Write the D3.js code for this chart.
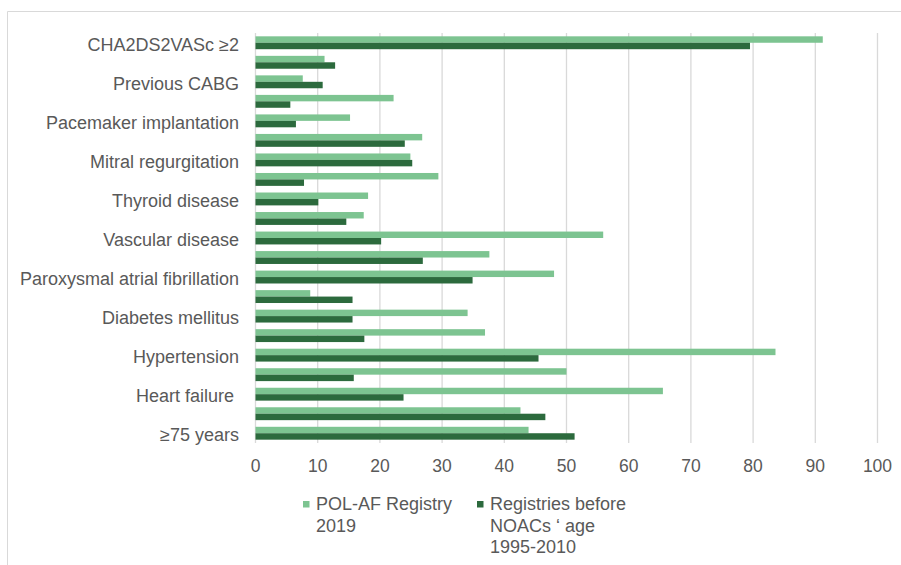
<!DOCTYPE html>
<html>
<head>
<meta charset="utf-8">
<script src="https://cdn.jsdelivr.net/npm/d3@7"></script>
<style>
  body { margin: 0; background: #fff; }
  svg text { font-family: "Liberation Sans", Arial, sans-serif; fill: #595959; white-space: pre; }
</style>
</head>
<body>
<svg id="chart" width="901" height="565"></svg>
<script>
// categories top to bottom; every second label is hidden in the original
const categories = ['CHA2DS2VASc \u22652', '', 'Previous CABG', '', 'Pacemaker implantation', '',
  'Mitral regurgitation', '', 'Thyroid disease', '', 'Vascular disease', '',
  'Paroxysmal atrial fibrillation', '', 'Diabetes mellitus', '', 'Hypertension', '',
  'Heart failure ', '', '\u226575 years']
const polAF = [91.2, 11.1, 7.6, 22.2, 15.2, 26.8, 24.9, 29.4, 18.1, 17.4, 55.9, 37.6,
  48.0, 8.8, 34.1, 36.9, 83.6, 50.0, 65.5, 42.6, 43.9]
const before = [79.5, 12.8, 10.8, 5.6, 6.5, 24.0, 25.2, 7.8, 10.1, 14.6, 20.2, 26.9,
  34.9, 15.6, 15.6, 17.5, 45.5, 15.8, 23.8, 46.6, 51.3]
const xTicks = [0, 10, 20, 30, 40, 50, 60, 70, 80, 90, 100]
const seriesNames = [['POL-AF Registry', '2019'], ['Registries before', 'NOACs \u2018 age', '1995-2010']]
const colors = ['#7dc491', '#2c6a3d']

const svg = d3.select('#chart')

// frame lines (top and left only visible)
svg.append('line').attr('x1', 7.5).attr('x2', 901).attr('y1', 11.5).attr('y2', 11.5)
  .attr('stroke', '#d9d9d9')
svg.append('line').attr('x1', 7.5).attr('x2', 7.5).attr('y1', 11.5).attr('y2', 565)
  .attr('stroke', '#d9d9d9')

const x = d3.scaleLinear().domain([0, 100]).range([255.5, 877.5])
const y = d3.scaleBand().domain(d3.range(categories.length)).range([33, 443]).paddingInner(0.34).paddingOuter(0.17)
const sub = d3.scaleBand().domain([0, 1]).range([0, y.bandwidth()])

// gridlines
svg.append('g')
  .selectAll('line')
  .data(xTicks)
  .enter()
  .append('line')
    .attr('x1', d => x(d)).attr('x2', d => x(d))
    .attr('y1', 33).attr('y2', 443)
    .attr('stroke', '#d9d9d9')
    .attr('stroke-width', 1.3)

const rows = svg.append('g')
  .selectAll('g')
  .data(categories.map((c, i) => ({ c, i, vals: [polAF[i], before[i]] })))
  .enter()
  .append('g')
    .attr('transform', d => `translate(0, ${y(d.i)})`)

rows.selectAll('rect')
  .data(d => d.vals)
  .enter()
  .append('rect')
    .attr('x', x(0))
    .attr('y', (d, j) => sub(j))
    .attr('width', d => x(d) - x(0))
    .attr('height', sub.bandwidth())
    .attr('fill', (d, j) => colors[j])

// category labels
svg.append('g')
  .selectAll('text')
  .data(categories)
  .enter()
  .append('text')
    .attr('x', 239)
    .attr('y', (d, i) => y(i) + y.bandwidth() / 2 + 1.5)
    .attr('dy', '0.35em')
    .attr('text-anchor', 'end')
    .style('font-size', '18px')
    .text(d => d)

// x tick labels
svg.append('g')
  .selectAll('text')
  .data(xTicks)
  .enter()
  .append('text')
    .attr('x', d => x(d))
    .attr('y', 466)
    .attr('dy', '0.35em')
    .attr('text-anchor', 'middle')
    .style('font-size', '17.5px')
    .text(d => d)

// legend
const legend = svg.append('g')
  .selectAll('g')
  .data(seriesNames)
  .enter()
  .append('g')
    .attr('transform', (d, i) => `translate(${[303, 477][i]}, 501)`)

legend.append('rect')
  .attr('width', 6.5).attr('height', 6.5)
  .attr('fill', (d, i) => colors[i])

legend.selectAll('text')
  .data(d => d)
  .enter()
  .append('text')
    .attr('x', 13)
    .attr('y', (d, k) => 3 + k * 21.5)
    .attr('dy', '0.35em')
    .style('font-size', '18px')
    .text(d => d)
</script>
</body>
</html>
